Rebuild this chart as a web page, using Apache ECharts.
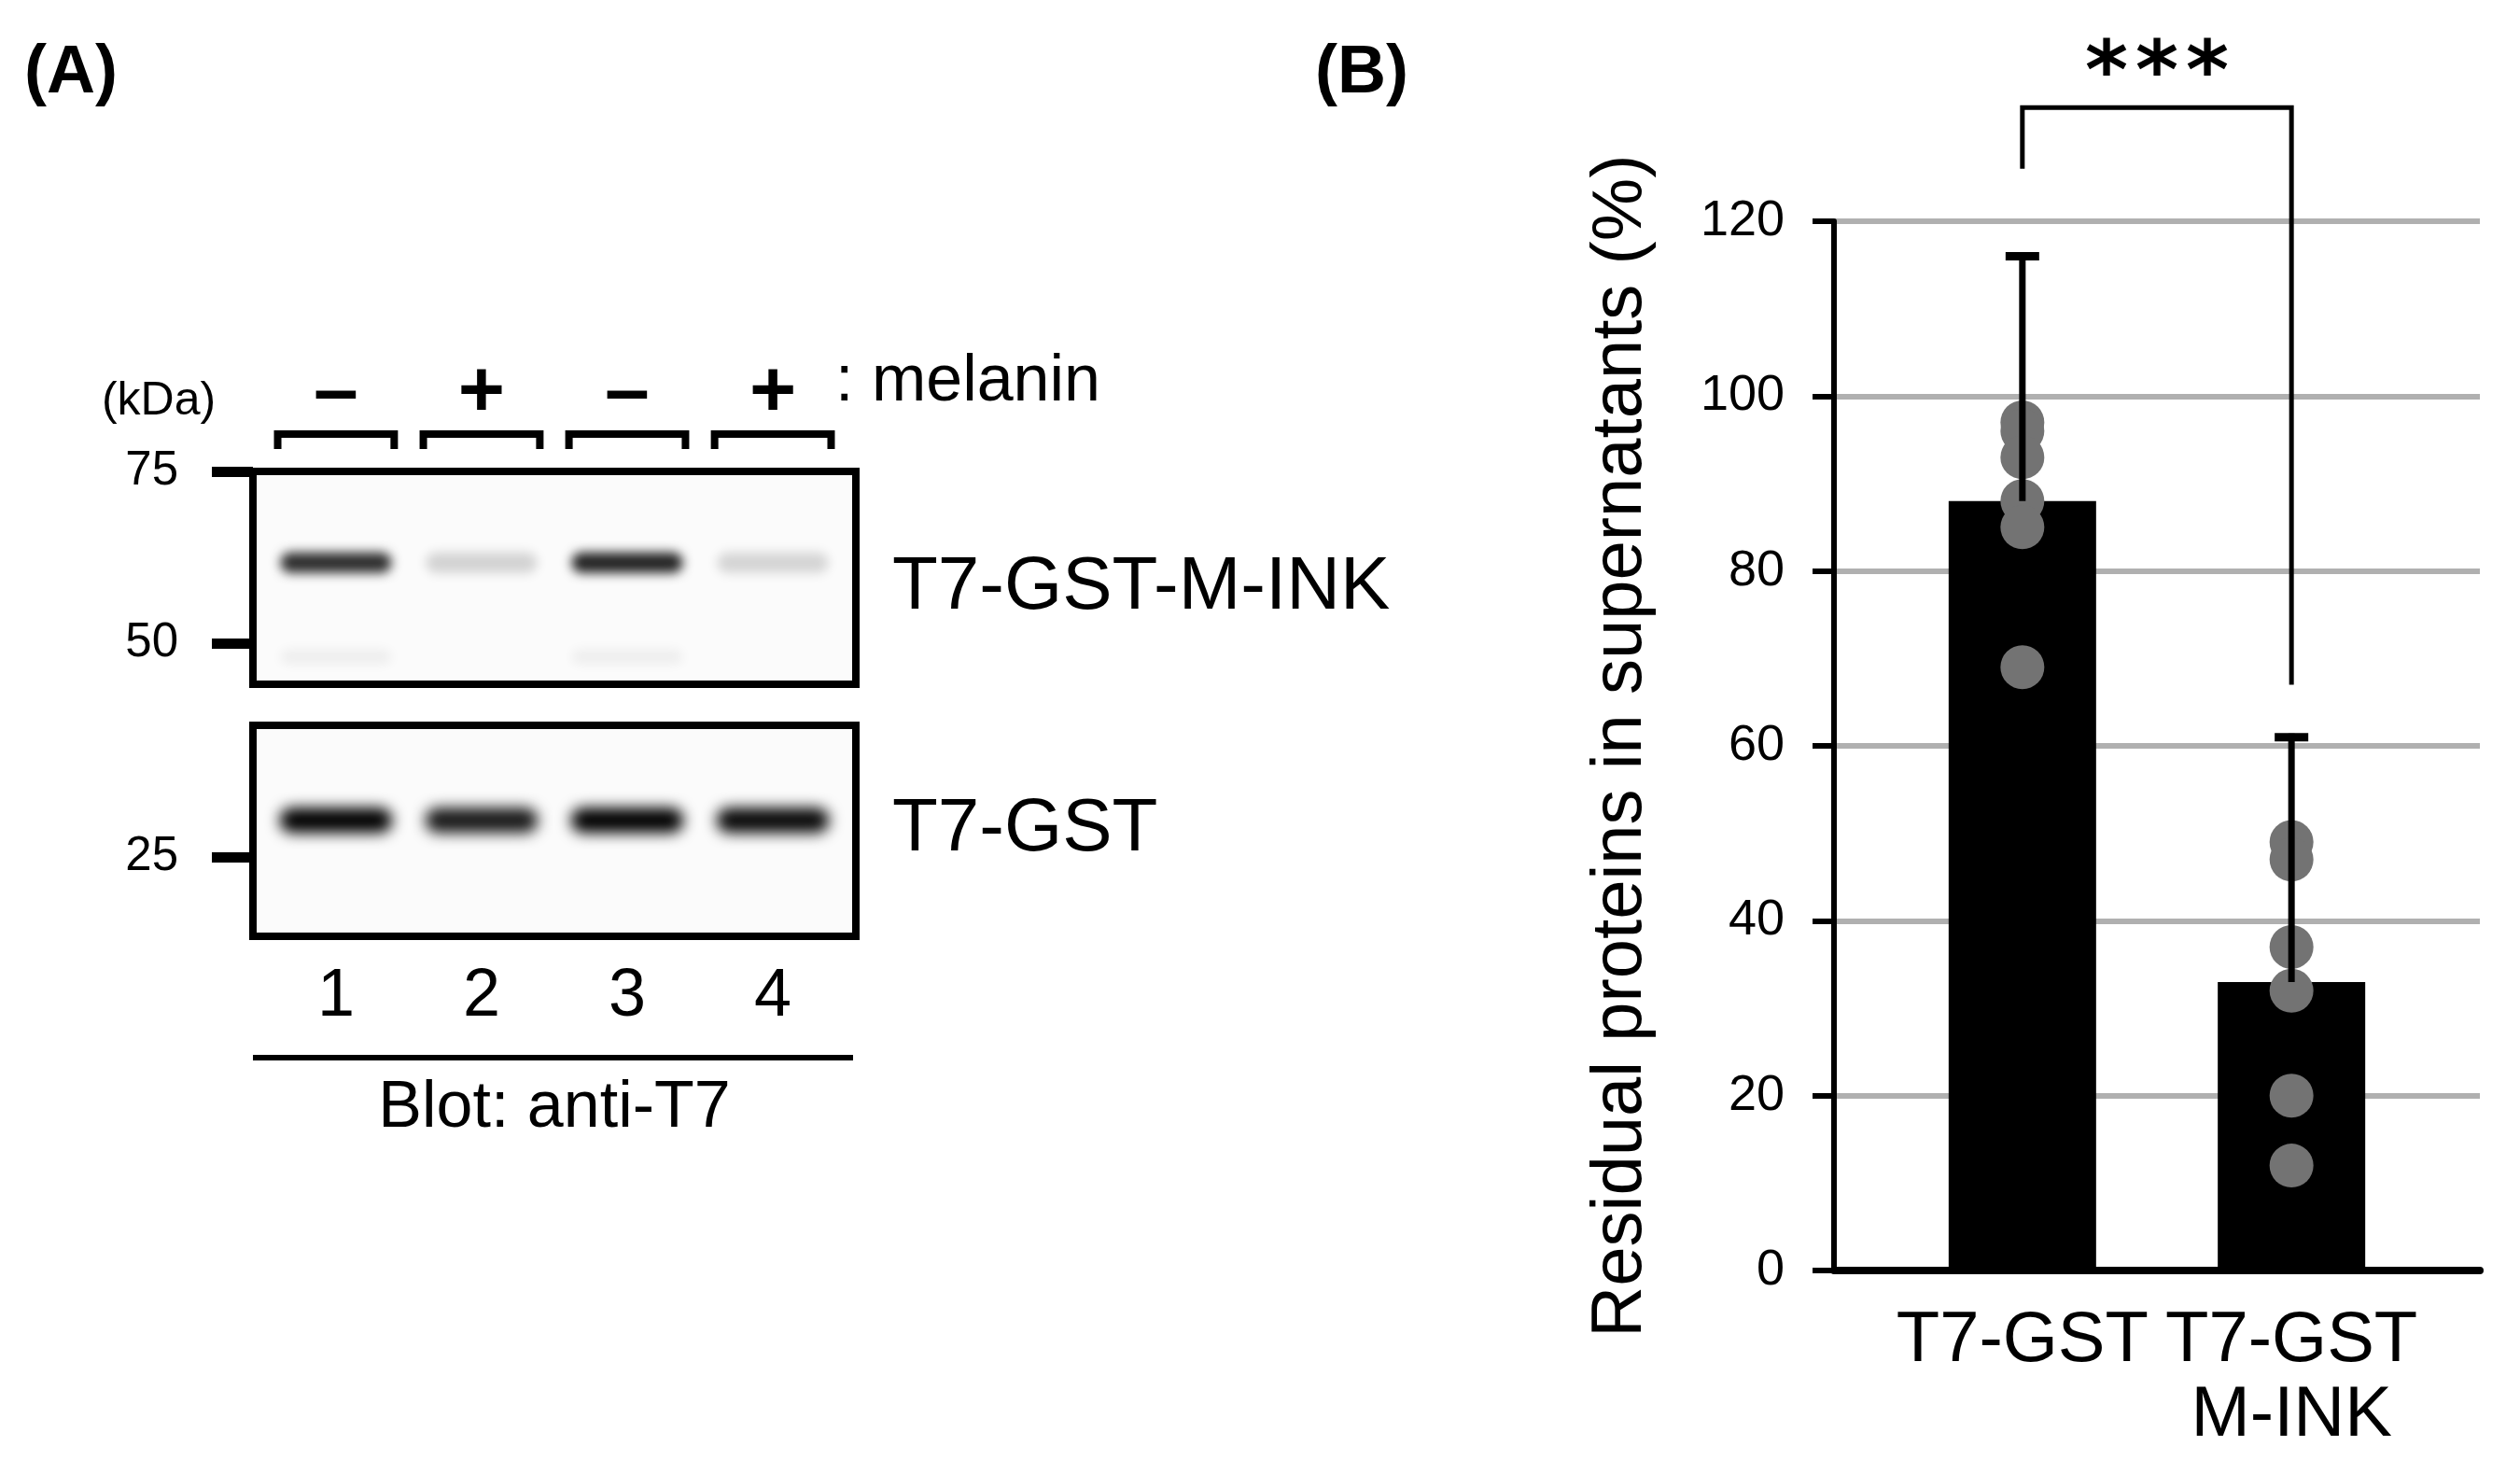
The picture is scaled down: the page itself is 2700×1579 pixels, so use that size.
<!DOCTYPE html>
<html><head><meta charset="utf-8">
<script src="https://cdn.jsdelivr.net/npm/echarts@6/dist/echarts.min.js"></script>
<style>html,body{margin:0;padding:0;background:#fff}#c{width:2700px;height:1579px}</style>
</head><body><div id="c"></div>
<script>
// ---------- Panel A data (western blot) ----------
const lanes = ['1', '2', '3', '4'];
const melanin = ['–', '+', '–', '+'];
const markersTop = [75, 50];
const markersBottom = [25];
const mwFusion = 61.7;   // T7-GST-M-INK band (kDa)
const mwFaint = 48;      // faint band below
const mwGST = 27.8;      // T7-GST band (kDa)
const intensityFusion = [0.76, 0.15, 0.8, 0.14];
const intensityFaint = [0.05, 0, 0.05, 0];
const intensityGST = [0.97, 0.84, 0.95, 0.9];

// ---------- Panel B data (bar chart) ----------
const groups = ['T7-GST', 'T7-GST\nM-INK'];
const means = [88, 33];
const sds = [28, 28];
const pointsGST = [97, 96, 93, 88, 85, 69];
const pointsMINK = [49, 47, 37, 32, 20, 12];
const yTicks = [0, 20, 40, 60, 80, 100, 120];
const sigLabel = '***';
const sigLeft = 126, sigTop = 133, sigRight = 67;

const FONT = '"Liberation Sans", Arial, Helvetica, sans-serif';
const laneIdx = lanes.map(function (_, i) { return i; });
const SHIFT = 6000;

// soft blot band: only the blurred shadow of an off-screen rectangle is visible
function bandItem(widthRatio, h, blur) {
  return function (params, api) {
    const a = api.value(2);
    if (!a) return null;
    const c = api.coord([api.value(0), api.value(1)]);
    const w = api.size([1, 0])[0] * widthRatio - blur;
    const alpha = Math.min(1, a / 0.93);
    return {
      type: 'rect',
      shape: { x: c[0] - w / 2 - SHIFT, y: c[1] - h / 2, width: w, height: h, r: h / 2 },
      style: {
        fill: '#000',
        shadowBlur: blur,
        shadowOffsetX: SHIFT,
        shadowOffsetY: 0,
        shadowColor: 'rgba(0,0,0,' + alpha.toFixed(3) + ')'
      }
    };
  };
}

const chart = echarts.init(document.getElementById('c'), null, { renderer: 'canvas' });
const option = {
  backgroundColor: '#fff',
  animation: false,
  textStyle: { fontFamily: FONT, color: '#000' },
  grid: [
    { left: 271, top: 505, width: 646, height: 228, show: true, borderColor: '#000', borderWidth: 8, backgroundColor: '#fbfbfb' },
    { left: 271, top: 777, width: 646, height: 226, show: true, borderColor: '#000', borderWidth: 8, backgroundColor: '#fbfbfb' },
    { left: 1965, top: 237, width: 692, height: 1124 }
  ],
  xAxis: [
    { gridIndex: 0, type: 'value', min: -0.57, max: 3.57, position: 'top',
      axisLine: { show: false, onZero: false }, axisTick: { show: false }, splitLine: { show: false },
      axisLabel: { customValues: laneIdx, formatter: function (v) { return melanin[Math.round(v)]; },
        margin: 40, fontSize: 86, fontWeight: 'bold', color: '#000', fontFamily: FONT } },
    { gridIndex: 1, type: 'value', min: -0.57, max: 3.57, position: 'bottom',
      axisLine: { show: false, onZero: false }, axisTick: { show: false }, splitLine: { show: false },
      axisLabel: { customValues: laneIdx, formatter: function (v) { return lanes[Math.round(v)]; },
        margin: 29, fontSize: 72, color: '#000', fontFamily: FONT } },
    { gridIndex: 2, type: 'value', min: -0.7, max: 1.7,
      axisLine: { show: true, onZero: false, lineStyle: { color: '#000', width: 8 } },
      axisTick: { show: false }, splitLine: { show: false },
      axisLabel: { customValues: [0, 1], formatter: function (v) { return groups[Math.round(v)]; },
        fontSize: 76, lineHeight: 80, margin: 36, color: '#000', fontFamily: FONT } }
  ],
  yAxis: [
    { gridIndex: 0, type: 'value', min: 44, max: 75,
      axisLine: { show: false, onZero: false }, splitLine: { show: false },
      axisTick: { show: true, customValues: markersTop, length: 44, lineStyle: { color: '#000', width: 11 } },
      axisLabel: { customValues: markersTop, margin: 80, fontSize: 51, color: '#000', fontFamily: FONT } },
    { gridIndex: 1, type: 'value', min: 19, max: 35,
      axisLine: { show: false, onZero: false }, splitLine: { show: false },
      axisTick: { show: true, customValues: markersBottom, length: 44, lineStyle: { color: '#000', width: 11 } },
      axisLabel: { customValues: markersBottom, margin: 80, fontSize: 51, color: '#000', fontFamily: FONT } },
    { gridIndex: 2, type: 'value', min: yTicks[0], max: yTicks[yTicks.length - 1], interval: yTicks[1] - yTicks[0],
      name: 'Residual proteins in supernatants (%)', nameLocation: 'middle', nameGap: 190,
      nameTextStyle: { fontSize: 76, color: '#000', fontFamily: FONT },
      axisLine: { show: true, onZero: false, lineStyle: { color: '#000', width: 6 } },
      axisTick: { show: true, inside: false, length: 23, lineStyle: { color: '#000', width: 6 } },
      axisLabel: { margin: 53, fontSize: 54, color: '#000', fontFamily: FONT },
      splitLine: { show: true, lineStyle: { color: '#b0b0b0', width: 6 } } }
  ],
  series: [
    { type: 'custom', xAxisIndex: 0, yAxisIndex: 0, clip: false, z: 3,
      data: laneIdx.map(function (i) { return [i, mwFusion, intensityFusion[i]]; }),
      renderItem: bandItem(0.84, 22, 12) },
    { type: 'custom', xAxisIndex: 0, yAxisIndex: 0, clip: false, z: 3,
      data: laneIdx.map(function (i) { return [i, mwFaint, intensityFaint[i]]; }),
      renderItem: bandItem(0.84, 16, 12) },
    { type: 'custom', xAxisIndex: 1, yAxisIndex: 1, clip: false, z: 3,
      data: laneIdx.map(function (i) { return [i, mwGST, intensityGST[i]]; }),
      renderItem: bandItem(0.87, 27, 15) },
    // lane brackets above the top blot
    { type: 'custom', xAxisIndex: 0, yAxisIndex: 0, clip: false, z: 3,
      data: laneIdx.map(function (i) { return [i, markersTop[0]]; }),
      renderItem: function (params, api) {
        const c = api.coord([api.value(0), api.value(1)]);
        const w = api.size([1, 0])[0] * 0.8;
        return { type: 'polyline',
          shape: { points: [[c[0] - w / 2, c[1] - 24], [c[0] - w / 2, c[1] - 40], [c[0] + w / 2, c[1] - 40], [c[0] + w / 2, c[1] - 24]] },
          style: { stroke: '#000', lineWidth: 8, fill: null, lineJoin: 'miter' } };
      } },
    // Panel B bars
    { type: 'bar', xAxisIndex: 2, yAxisIndex: 2, z: 2, barWidth: 158,
      data: means.map(function (m, i) { return [i, m]; }),
      itemStyle: { color: '#000' } },
    // individual points
    { type: 'scatter', xAxisIndex: 2, yAxisIndex: 2, z: 3, symbolSize: 47,
      data: pointsGST.map(function (v) { return [0, v]; }).concat(pointsMINK.map(function (v) { return [1, v]; })),
      itemStyle: { color: '#737373', opacity: 1 } },
    // error bars (upper)
    { type: 'custom', xAxisIndex: 2, yAxisIndex: 2, z: 4, clip: false,
      data: means.map(function (m, i) { return [i, m, m + sds[i]]; }),
      renderItem: function (params, api) {
        const b = api.coord([api.value(0), api.value(1)]);
        const t = api.coord([api.value(0), api.value(2)]);
        return { type: 'group', children: [
          { type: 'line', shape: { x1: b[0], y1: b[1], x2: t[0], y2: t[1] - 4 }, style: { stroke: '#000', lineWidth: 7 } },
          { type: 'line', shape: { x1: t[0] - 18, y1: t[1], x2: t[0] + 18, y2: t[1] }, style: { stroke: '#000', lineWidth: 9 } }
        ] };
      } },
    // significance bracket
    { type: 'custom', xAxisIndex: 2, yAxisIndex: 2, z: 4, clip: false,
      data: [[0, 1, sigLeft, sigTop, sigRight]],
      encode: { x: [0, 1], y: [2, 3, 4] },
      renderItem: function (params, api) {
        const p1 = api.coord([api.value(0), api.value(2)]);
        const p2 = api.coord([api.value(0), api.value(3)]);
        const p3 = api.coord([api.value(1), api.value(3)]);
        const p4 = api.coord([api.value(1), api.value(4)]);
        const mid = (p2[0] + p3[0]) / 2;
        const children = [{ type: 'polyline', shape: { points: [p1, p2, p3, p4] },
          style: { stroke: '#000', lineWidth: 5, fill: null } }];
        const chars = sigLabel.split('');
        chars.forEach(function (ch, k) {
          children.push({ type: 'text', x: mid + (k - (chars.length - 1) / 2) * 54, y: p2[1] - 33,
            style: { text: ch, fontSize: 88, fontWeight: 'bold', fontFamily: '"DejaVu Sans", sans-serif', fill: '#000',
              textAlign: 'center', textVerticalAlign: 'middle' } });
        });
        return { type: 'group', children: children };
      } }
  ],
  graphic: [
    { type: 'text', x: 26, y: 43, style: { text: '(A)', fontSize: 72, fontWeight: 'bold', fontFamily: FONT, fill: '#000', textAlign: 'left', textVerticalAlign: 'top' } },
    { type: 'text', x: 1409, y: 43, style: { text: '(B)', fontSize: 72, fontWeight: 'bold', fontFamily: FONT, fill: '#000', textAlign: 'left', textVerticalAlign: 'top' } },
    { type: 'text', x: 170, y: 430, style: { text: '(kDa)', fontSize: 50, fontFamily: FONT, fill: '#000', textAlign: 'center', textVerticalAlign: 'middle' } },
    { type: 'text', x: 895, y: 410, style: { text: ': melanin', fontSize: 70, fontFamily: FONT, fill: '#000', textAlign: 'left', textVerticalAlign: 'middle' } },
    { type: 'text', x: 956, y: 630, style: { text: 'T7-GST-M-INK', fontSize: 80, fontFamily: FONT, fill: '#000', textAlign: 'left', textVerticalAlign: 'middle' } },
    { type: 'text', x: 956, y: 889, style: { text: 'T7-GST', fontSize: 80, fontFamily: FONT, fill: '#000', textAlign: 'left', textVerticalAlign: 'middle' } },
    { type: 'line', shape: { x1: 271, y1: 1133, x2: 914, y2: 1133 }, style: { stroke: '#000', lineWidth: 6 } },
    { type: 'text', x: 594, y: 1188, style: { text: 'Blot: anti-T7', fontSize: 70, fontFamily: FONT, fill: '#000', textAlign: 'center', textVerticalAlign: 'middle' } }
  ]
};
chart.setOption(option);
</script>
</body></html>
